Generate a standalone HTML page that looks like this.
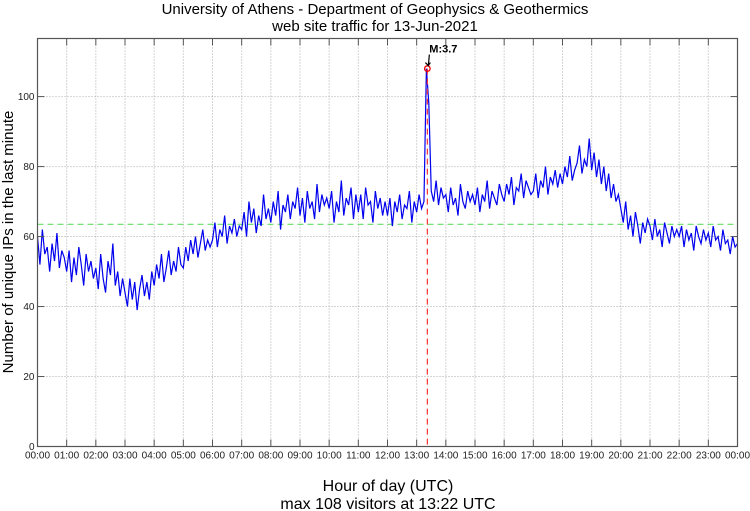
<!DOCTYPE html>
<html><head><meta charset="utf-8"><style>
body{margin:0;background:#fff;width:750px;height:511px;overflow:hidden}
svg{display:block;font-family:"Liberation Sans",sans-serif}
</style></head><body>
<svg id="chart" width="750" height="511">
<text x="375" y="14" text-anchor="middle" font-size="15">University of Athens - Department of Geophysics &amp; Geothermics</text>
<text x="375" y="31" text-anchor="middle" font-size="15">web site traffic for 13-Jun-2021</text>
<text transform="translate(13,242) rotate(-90)" text-anchor="middle" font-size="15">Number of unique IPs in the last minute</text>
<text x="388" y="491" text-anchor="middle" font-size="16">Hour of day (UTC)</text>
<text x="388" y="509" text-anchor="middle" font-size="16">max 108 visitors at 13:22 UTC</text>
<g id="grid"></g><g id="series"></g><g id="axes"></g>
</svg>
<script>
const yTicks=[0,20,40,60,80,100];
const xTickLabels=["00:00","01:00","02:00","03:00","04:00","05:00","06:00","07:00","08:00","09:00","10:00","11:00","12:00","13:00","14:00","15:00","16:00","17:00","18:00","19:00","20:00","21:00","22:00","23:00","00:00"];
const meanValue=63.5;
const peakHour=13+22/60;
const peakValue=108;
const peakLabel="M:3.7";
// visitors every 5 minutes, hour by hour
const visitors=[
60,52,62,55,57,50,58,53,61,51,56,54,
50,56,47,54,49,57,52,46,55,50,53,48,
51,45,55,48,44,53,49,58,46,50,43,48,
44,40,48,42,47,39,45,49,43,47,42,50,
46,52,48,55,47,51,56,49,53,50,57,52,
51,57,53,59,55,60,54,58,62,56,59,57,
59,64,57,62,60,66,58,63,61,65,60,63,
62,67,60,70,64,68,61,66,63,72,65,68,
64,70,66,73,62,69,67,72,65,70,68,74,
66,71,64,73,68,70,65,75,67,72,69,71,
68,73,64,70,67,76,66,71,69,74,65,72,
67,72,65,74,69,70,64,73,68,71,66,70,
66,71,63,70,67,72,65,69,68,73,64,70,
67,72,68,70,108,98,73,70,76,69,74,71,
72,67,74,69,71,66,75,70,68,73,70,72,
69,74,67,72,70,76,68,73,71,69,75,72,
70,75,72,77,69,74,73,78,71,76,74,72,
73,78,71,76,74,80,72,77,75,79,74,78,
75,80,77,83,76,79,81,86,78,82,80,88,
79,84,77,82,75,80,73,78,71,75,70,72,
68,64,70,62,66,60,67,63,58,64,61,65,
63,59,65,60,62,57,64,61,58,63,60,62,
60,63,57,62,59,61,56,63,60,58,62,59,
61,57,63,59,60,56,62,58,59,55,60,57,
58];
const L=37.5,R=737.5,T=38.5,B=446.5,YMAX=116.6;
const xs=h=>L+(R-L)*h/24;
const ys=v=>B-(B-T)*v/YMAX;
const NS="http://www.w3.org/2000/svg";
function mk(tag,attrs,parent){const e=document.createElementNS(NS,tag);for(const k in attrs)e.setAttribute(k,attrs[k]);parent.appendChild(e);return e;}
const grid=document.getElementById('grid'),axes=document.getElementById('axes'),series=document.getElementById('series');
mk('rect',{x:L,y:T,width:R-L,height:B-T,fill:'#fff'},grid);
xTickLabels.forEach((t,i)=>{
  const x=xs(i);
  if(i>0&&i<24){const g=mk('line',{x1:x,x2:x,y1:T,y2:B,stroke:'#aaa','stroke-dasharray':'1,2','stroke-width':1},grid);
  
  }
  mk('line',{x1:x,x2:x,y1:B,y2:B-7,stroke:'#555'},axes);
  mk('line',{x1:x,x2:x,y1:T,y2:T+7,stroke:'#555'},axes);
  const tx=mk('text',{x:x,y:B+12,'text-anchor':'middle','font-size':10,fill:'#222'},axes);
  tx.textContent=t;
  
  
});
yTicks.forEach(v=>{
  const y=ys(v);
  if(v>0){const g=mk('line',{x1:L,x2:R,y1:y,y2:y,stroke:'#aaa','stroke-dasharray':'1,2'},grid);
  
  }
  mk('line',{x1:L,x2:L+7,y1:y,y2:y,stroke:'#555'},axes);
  mk('line',{x1:R,x2:R-7,y1:y,y2:y,stroke:'#555'},axes);
  const tx=mk('text',{x:L-3,y:y+3.5,'text-anchor':'end','font-size':10,fill:'#222'},axes);
  tx.textContent=v;
  
  
});
const frame=mk('rect',{x:L,y:T,width:R-L,height:B-T,fill:'none',stroke:'#555','stroke-width':1.2},axes);


const mean=mk('line',{x1:L,x2:R,y1:ys(meanValue),y2:ys(meanValue),stroke:'#66dd66','stroke-dasharray':'6,4','stroke-width':1.2},series);


const pts=visitors.map((v,i)=>xs(i/12).toFixed(2)+','+ys(v).toFixed(2)).join(' ');
const line=mk('polyline',{points:pts,fill:'none',stroke:'#0000ee','stroke-width':1.2},series);


const px=xs(peakHour),py=ys(peakValue);
const vl=mk('line',{x1:px,x2:px,y1:py,y2:B,stroke:'#ff3333','stroke-dasharray':'6,4','stroke-width':1.2},series);


const c=mk('circle',{cx:px,cy:py,r:2.8,fill:'none',stroke:'#ee0000','stroke-width':1.3},series);


const ar=mk('path',{d:`M${px+2},${py-14} L${px+1},${py-3} M${px-2},${py-6} L${px+1},${py-3} L${px+3},${py-6}`,stroke:'#000',fill:'none','stroke-width':1.2},series);


const pl=mk('text',{x:px+16,y:py-16,'text-anchor':'middle','font-size':11,'font-weight':'bold'},series);
pl.textContent=peakLabel;


</script>
</body></html>
